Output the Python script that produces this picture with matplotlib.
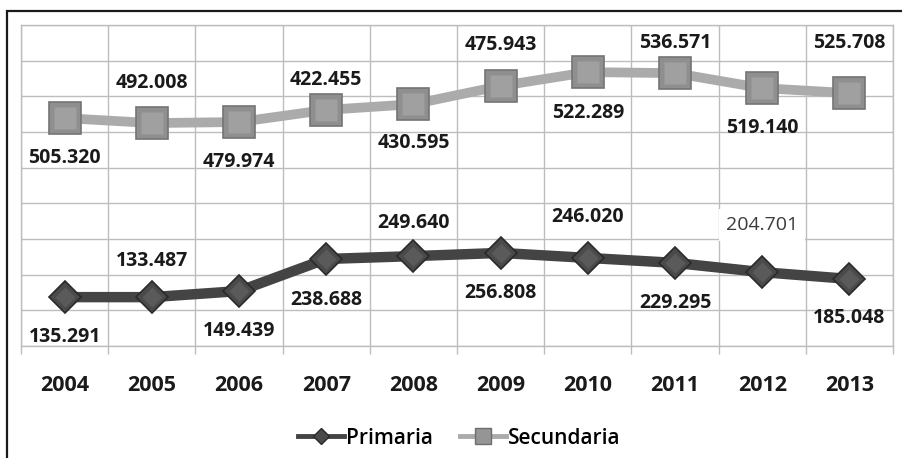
import matplotlib
matplotlib.use("Agg")
import matplotlib.pyplot as plt
from matplotlib.lines import Line2D
from matplotlib.patches import Rectangle

# ---- data ----
years = ["2004", "2005", "2006", "2007", "2008", "2009", "2010", "2011", "2012", "2013"]
# plotted positions (chart units, gridline = 1)
secundaria_pos = [6.39, 6.25, 6.28, 6.62, 6.78, 7.29, 7.68, 7.65, 7.23, 7.09]
primaria_pos = [1.37, 1.37, 1.54, 2.44, 2.52, 2.61, 2.47, 2.33, 2.07, 1.88]
# data labels as printed in the chart
secundaria_labels = ["505.320", "492.008", "479.974", "422.455", "430.595",
                     "475.943", "522.289", "536.571", "519.140", "525.708"]
primaria_labels = ["135.291", "133.487", "149.439", "238.688", "249.640",
                   "256.808", "246.020", "229.295", "204.701", "185.048"]

# label offsets in pixels (positive = below marker)
sec_off = [40, -40, 40, -30, 39, -41, 41, -30, 40, -50]
pri_off = [40, -36, 40, 41, -33, 40, -41, 40, -47, 39]

W, H = 903, 458
fig = plt.figure(figsize=(W / 100, H / 100), dpi=100)
fig.patch.set_facecolor("white")

# outer frame
fig.add_artist(Rectangle((7 / W, -0.1), 1.2, (H - 11) / H + 0.1, transform=fig.transFigure,
                         fill=False, edgecolor="#1a1a1a", linewidth=1.6))

ax = fig.add_axes([21 / W, (H - 346) / H, (893 - 21) / W, (346 - 25) / H])
x = list(range(len(years)))
ax.set_xlim(-0.5, len(years) - 0.5)
ax.set_ylim(0, 9)

grid_c = "#bdbdbd"
ax.set_yticks(range(0, 10))
ax.set_yticklabels([])
ax.tick_params(axis="y", length=0)
ax.grid(axis="y", color=grid_c, linewidth=1.0)
ax.set_xticks(x)
ax.set_xticklabels(years, fontfamily="Open Sans", fontweight="bold", fontsize=15.5, color="#1a1a1a")
ax.tick_params(axis="x", which="major", length=0, pad=21)
ax.set_xticks([i - 0.5 for i in range(len(years) + 1)], minor=True)
ax.tick_params(axis="x", which="minor", length=6, width=1.0, color=grid_c, direction="out")
ax.grid(axis="x", which="minor", color=grid_c, linewidth=1.0)
for s in ax.spines.values():
    s.set_color(grid_c)
    s.set_linewidth(1.0)
ax.set_axisbelow(True)

# Secundaria
ax.plot(x, secundaria_pos, color="#ababab", linewidth=7, solid_capstyle="round", zorder=3)
ax.plot(x, secundaria_pos, linestyle="none", marker="s", markersize=23,
        markerfacecolor="#8f8f8f", markeredgecolor="#747474", markeredgewidth=1.2, zorder=4)
ax.plot(x, secundaria_pos, linestyle="none", marker="s", markersize=16,
        markerfacecolor="#a0a0a0", markeredgecolor="none", zorder=5)

# Primaria
ax.plot(x, primaria_pos, color="#444444", linewidth=7.5, solid_capstyle="round", zorder=3)
ax.plot(x, primaria_pos, linestyle="none", marker="D", markersize=16,
        markerfacecolor="#4a4a4a", markeredgecolor="#2a2a2a", markeredgewidth=1.2, zorder=4)
ax.plot(x, primaria_pos, linestyle="none", marker="D", markersize=10,
        markerfacecolor="#5a5a5a", markeredgecolor="none", zorder=5)

lab_font = dict(fontfamily="Open Sans", fontweight="bold", fontsize=14, color="#1a1a1a",
                ha="center", va="center")
for i, (v, t) in enumerate(zip(secundaria_pos, secundaria_labels)):
    ax.annotate(t, (i, v), xytext=(0, -sec_off[i] * 0.72), textcoords="offset points", **lab_font)
for i, (v, t) in enumerate(zip(primaria_pos, primaria_labels)):
    if i == 8:
        ax.annotate(t, (i, v), xytext=(0, -pri_off[i] * 0.72), textcoords="offset points",
                    fontfamily="Open Sans", fontsize=14, color="#3a3a3a", ha="center", va="center",
                    bbox=dict(boxstyle="square,pad=0.35", facecolor="white", edgecolor="none"), zorder=6)
    else:
        ax.annotate(t, (i, v), xytext=(0, -pri_off[i] * 0.72), textcoords="offset points", **lab_font)

handles = [
    Line2D([], [], color="#444444", linewidth=3.5, marker="D", markersize=8,
           markerfacecolor="#4a4a4a", markeredgecolor="#2a2a2a"),
    Line2D([], [], color="#ababab", linewidth=3.5, marker="s", markersize=11,
           markerfacecolor="#959595", markeredgecolor="#6e6e6e"),
]
fig.legend(handles, ["Primaria", "Secundaria"], loc="center", bbox_to_anchor=(459 / W, (H - 438) / H),
           ncol=2, frameon=False, handlelength=2.2, handletextpad=0.1, columnspacing=1.3,
           prop=dict(family="Open Sans", size=15, weight="semibold"))

fig.savefig("out.png", dpi=100)
